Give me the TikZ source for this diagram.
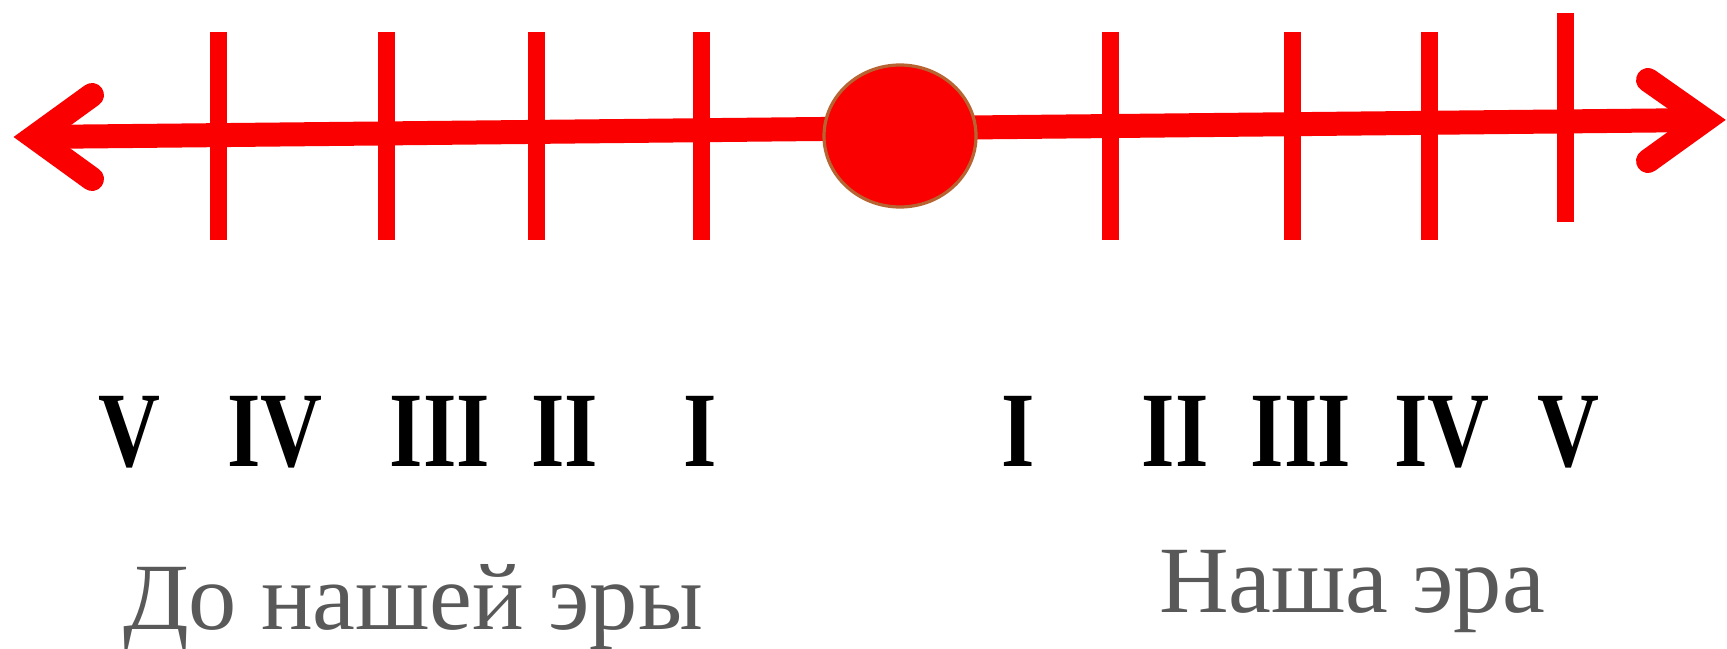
\documentclass[tikz,border=0pt]{standalone}
\usepackage{fontspec}
\setmainfont{Liberation Serif}
\usetikzlibrary{shapes.geometric}
\definecolor{axisred}{RGB}{250,0,0}
\definecolor{rimbrown}{RGB}{184,100,50}
\definecolor{eragray}{RGB}{89,89,89}
\tikzset{
  axisline/.style={draw=axisred, line width=12pt, line cap=round, line join=miter},
  tickmark/.style={draw=axisred, line width=8.5pt},
  numeral/.style={anchor=base, inner sep=0pt, font=\fontsize{53.6}{60}\selectfont\bfseries, text=black},
  eralabel/.style={anchor=base, inner sep=0pt, font=\fontsize{47.5}{52}\selectfont, text=eragray}
}
\begin{document}
\begin{tikzpicture}[x=0.5pt, y=-0.5pt]
\useasboundingbox (0,0) rectangle (1727,648);
% axis
\coordinate (ltip) at (34,137);
\coordinate (rtip) at (1705,120);
\coordinate (lup) at (92,95);
\coordinate (llo) at (92,179);
\coordinate (rup) at (1648,80);
\coordinate (rlo) at (1648,161);
\draw[axisline, line cap=butt] (ltip) -- (rtip);
\draw[axisline] (lup) -- (ltip) -- (llo);
\draw[axisline] (rup) -- (rtip) -- (rlo);
% ticks
\foreach \x/\n in {218/a,386/b,536/c,701/d,1110/e,1292/f,1429/g}{
  \coordinate (t\n1) at (\x,32);
  \coordinate (t\n2) at (\x,240);
  \draw[tickmark] (t\n1) -- (t\n2);
}
\coordinate (th1) at (1565,13);
\coordinate (th2) at (1565,222);
\draw[tickmark] (th1) -- (th2);
% centre
\node[ellipse, draw=rimbrown, line width=1.6pt, fill=axisred, minimum width=76pt, minimum height=71pt, inner sep=0pt] (zero) at (900,136) {};
% numerals
\node[numeral] (bc5) at (129,466) {\scalebox{0.8}[1]{V}};
\node[numeral] (bc4) at (275,466) {\scalebox{0.8}[1]{IV}};
\node[numeral] (bc3) at (440,466) {\scalebox{0.8}[1]{III}};
\node[numeral] (bc2) at (565,466) {\scalebox{0.8}[1]{II}};
\node[numeral] (bc1) at (700,466) {\scalebox{0.8}[1]{I}};
\node[numeral] (ad1) at (1018,466) {\scalebox{0.8}[1]{I}};
\node[numeral] (ad2) at (1175,466) {\scalebox{0.8}[1]{II}};
\node[numeral] (ad3) at (1301,466) {\scalebox{0.8}[1]{III}};
\node[numeral] (ad4) at (1442,466) {\scalebox{0.8}[1]{IV}};
\node[numeral] (ad5) at (1568,466) {\scalebox{0.8}[1]{V}};
% era labels
\node[eralabel] (bce) at (413,629) {\scalebox{1.015}[1]{До нашей эры}};
\node[eralabel] (ce) at (1352,612) {\scalebox{1.015}[1]{Наша эра}};
\end{tikzpicture}
\end{document}
